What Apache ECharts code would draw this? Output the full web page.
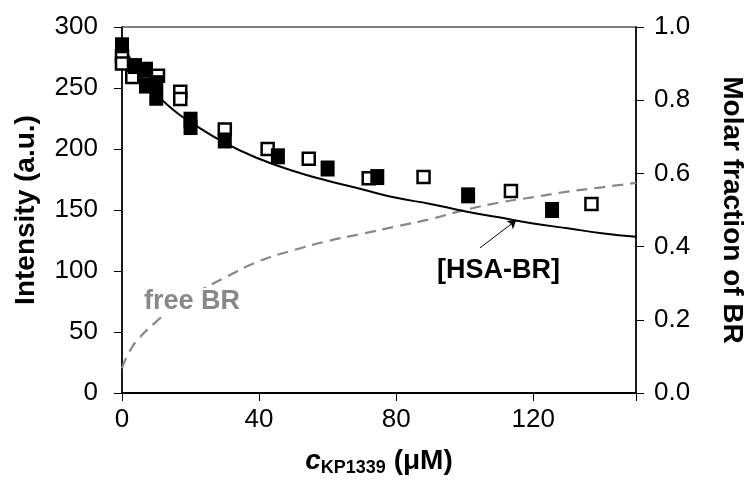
<!DOCTYPE html>
<html>
<head>
<meta charset="utf-8">
<script src="https://cdn.jsdelivr.net/npm/echarts@6/dist/echarts.min.js"></script>
<style>
  html, body { margin: 0; padding: 0; background: #fff; }
  #chart { width: 754px; height: 486px; }
</style>
</head>
<body>
<div id="chart"></div>
<script>
// measured intensity, filled squares
var filledX = [0, 3.8, 7, 7, 10, 10, 20, 20, 30, 45.5, 60, 74.5, 101, 125.5];
var filledY = [285, 268, 265, 252, 254, 242, 224, 218, 207, 194, 184, 177, 162, 150];
// measured intensity, open squares
var openX = [0, 0, 3, 10.5, 17, 17, 30, 42.5, 54.5, 72, 88, 113.5, 137];
var openY = [276, 270, 259, 260, 247, 241, 216, 200, 192, 176, 177, 165.5, 155];
// [HSA-BR] curve (left axis)
var fitX = [0, 3, 6, 10, 15, 20, 30, 40, 50, 60, 70, 80, 90, 100, 110, 120, 130, 140, 150];
var fitY = [287, 271, 258, 245, 232, 222, 205, 192, 182, 174, 167, 160, 155, 149, 144, 139, 135, 131, 128];
// free BR curve (right axis, molar fraction)
var freeX = [0, 2, 5, 10, 15, 20, 30, 40, 50, 60, 70, 80, 90, 100, 110, 120, 130, 140, 150];
var freeY = [0.068, 0.11, 0.15, 0.195, 0.235, 0.265, 0.315, 0.36, 0.39, 0.415, 0.435, 0.455, 0.475, 0.5, 0.52, 0.535, 0.55, 0.562, 0.574];

var xTicks = [0, 40, 80, 120];

function pairs(xs, ys) {
  return xs.map(function (x, i) { return [x, ys[i]]; });
}

var font = 'Liberation Sans, Arial, sans-serif';
var myChart = echarts.init(document.getElementById('chart'));

var option = {
  animation: false,
  textStyle: { fontFamily: font },
  grid: {
    left: 122, right: 114, top: 27, bottom: 93,
    show: true, borderColor: '#000', borderWidth: 1.2, backgroundColor: 'transparent'
  },
  xAxis: {
    type: 'value',
    min: 0, max: 150, interval: 40,
    axisLine: { lineStyle: { color: '#000', width: 2 } },
    axisTick: { show: true, inside: false, length: 8, lineStyle: { color: '#000', width: 1 } },
    axisLabel: {
      color: '#000', fontSize: 26, fontFamily: font, margin: 14,
      formatter: function (v) { return xTicks.indexOf(v) >= 0 ? String(v) : ''; }
    },
    splitLine: { show: false },
    name: '{i|c}{s|KP1339}{n| (μM)}',
    nameLocation: 'middle',
    nameGap: 52,
    nameTextStyle: {
      rich: {
        i: { fontSize: 28, fontWeight: 'bold', fontStyle: 'italic', color: '#000', fontFamily: font },
        s: { fontSize: 18, fontWeight: 'bold', color: '#000', fontFamily: font, padding: [14, 0, 0, 0] },
        n: { fontSize: 28, fontWeight: 'bold', color: '#000', fontFamily: font }
      }
    }
  },
  yAxis: [{
    type: 'value',
    min: 0, max: 300, interval: 50,
    axisLine: { show: true, lineStyle: { color: '#000', width: 1.5 } },
    axisTick: { show: true, inside: false, length: 8, lineStyle: { color: '#000', width: 1 } },
    axisLabel: { color: '#000', fontSize: 26, fontFamily: font, margin: 24 },
    splitLine: { show: false },
    name: 'Intensity (a.u.)',
    nameLocation: 'middle',
    nameGap: 82,
    nameRotate: 90,
    nameTextStyle: { fontSize: 28, fontWeight: 'bold', color: '#000', fontFamily: font }
  }, {
    type: 'value',
    position: 'right',
    min: 0, max: 1, interval: 0.2,
    axisLine: { show: true, lineStyle: { color: '#000', width: 1.5 } },
    axisTick: { show: true, inside: false, length: 8, lineStyle: { color: '#000', width: 1 } },
    axisLabel: {
      color: '#000', fontSize: 26, fontFamily: font, margin: 18,
      formatter: function (v) { return v.toFixed(1); }
    },
    splitLine: { show: false },
    name: 'Molar fraction of BR',
    nameLocation: 'middle',
    nameGap: 82,
    nameRotate: -90,
    nameTextStyle: { fontSize: 28, fontWeight: 'bold', color: '#000', fontFamily: font }
  }],
  series: [
    {
      name: 'free BR',
      type: 'line',
      yAxisIndex: 1,
      data: pairs(freeX, freeY),
      smooth: true,
      showSymbol: false,
      lineStyle: { color: '#888', width: 2.2, type: [11, 7] },
      z: 2
    },
    {
      name: '[HSA-BR]',
      type: 'line',
      data: pairs(fitX, fitY),
      smooth: true,
      showSymbol: false,
      lineStyle: { color: '#000', width: 2 },
      z: 3,
      markLine: {
        silent: true,
        symbol: ['none', 'arrow'],
        symbolSize: 8,
        label: { show: false },
        lineStyle: { color: '#000', width: 1, type: 'solid' },
        data: [[{ coord: [104.5, 119] }, { coord: [115, 141.5] }]]
      }
    },
    {
      name: 'open',
      type: 'scatter',
      data: pairs(openX, openY),
      symbol: 'rect',
      symbolSize: [12, 12],
      itemStyle: { color: '#fff', borderColor: '#000', borderWidth: 2.5, opacity: 1 },
      z: 4
    },
    {
      name: 'filled',
      type: 'scatter',
      data: pairs(filledX, filledY),
      symbol: 'rect',
      symbolSize: [14, 16],
      itemStyle: { color: '#000', opacity: 1 },
      z: 5
    }
  ],
  graphic: [
    {
      type: 'text', left: 144, top: 288, z: 10,
      style: { text: 'free BR', fill: '#888', font: 'bold 27px ' + font, backgroundColor: '#fff' }
    },
    {
      type: 'text', left: 437, top: 257, z: 10,
      style: { text: '[HSA-BR]', fill: '#000', font: 'bold 27px ' + font }
    }
  ]
};

myChart.setOption(option);
</script>
</body>
</html>
